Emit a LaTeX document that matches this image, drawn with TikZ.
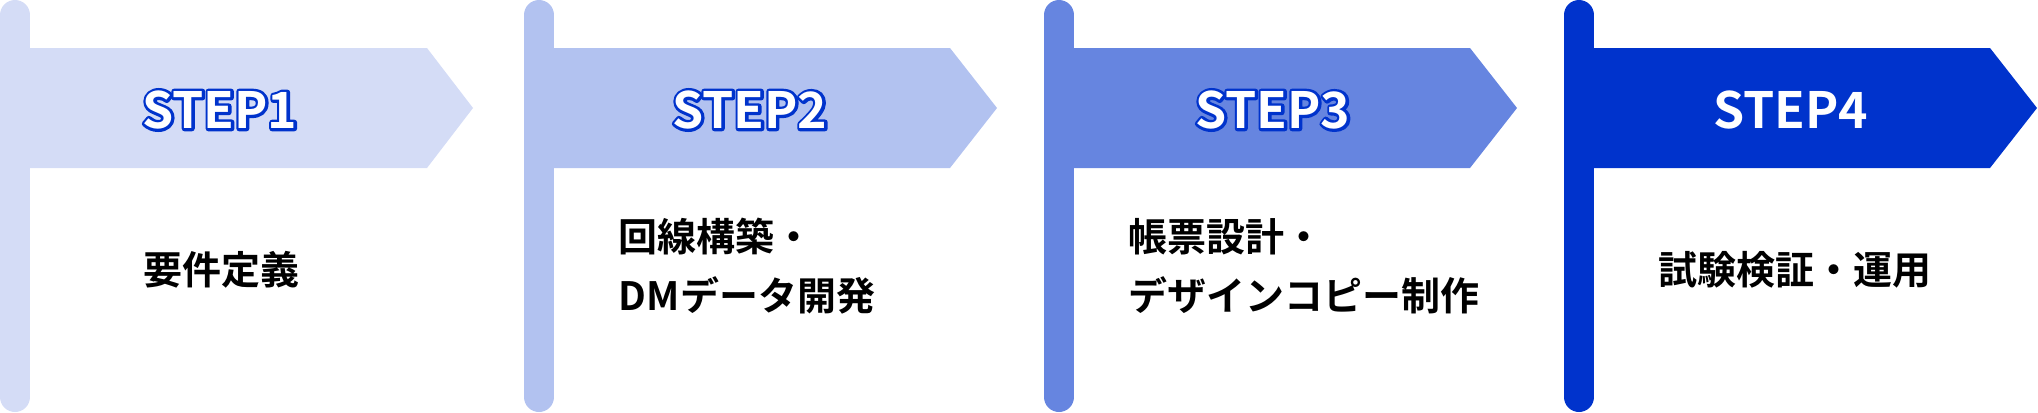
\documentclass[tikz,border=0pt]{standalone}
\usepackage{fontspec}
\usepackage{xcolor}
\usepackage{tikz}
\usetikzlibrary{positioning}
\newfontfamily\jpfont{Noto Sans CJK JP Bold}
\definecolor{stepblue}{HTML}{0033CC}
% blue outline behind white letters
\newcommand{\stepoutline}[1]{%
  \rlap{\special{pdf:literal direct 1 Tr 2.8 w 1 j 0 0.2 0.8 RG}#1%
  \special{pdf:literal direct 0 Tr 0.4 w}}#1}

\begin{document}
\begin{tikzpicture}[x=0.5pt, y=-0.5pt,
  pole/.style={line width=15pt, line cap=round},
  steplabel/.style={inner sep=0pt, text=white,
    font=\jpfont\fontsize{25}{30}\selectfont},
  stepbody/.style={inner sep=0pt, text=black, align=left,
    font=\jpfont\fontsize{19.5}{29.5}\selectfont}]

\useasboundingbox (0,0) rectangle (2038,412);

% Flags — pole plus pennant, four tints of the same blue
\draw[pole, stepblue!17!white] (15,15) -- (15,397);
\fill[stepblue!17!white] (15,48) -- (427,48) -- (473,108) -- (427,168) -- (15,168) -- cycle;

\draw[pole, stepblue!30!white] (539,15) -- (539,397);
\fill[stepblue!30!white] (539,48) -- (950,48) -- (997,108) -- (950,168) -- (539,168) -- cycle;

\draw[pole, stepblue!60!white] (1059,15) -- (1059,397);
\fill[stepblue!60!white] (1059,48) -- (1470,48) -- (1517,108) -- (1470,168) -- (1059,168) -- cycle;

\draw[pole, stepblue] (1579,15) -- (1579,397);
\fill[stepblue] (1579,48) -- (1990,48) -- (2037,108) -- (1990,168) -- (1579,168) -- cycle;

% Step labels on the pennants
\node[steplabel] (s1) at (220,110) {\stepoutline{STEP1}};
\node[steplabel] (s2) at (750,110) {\stepoutline{STEP2}};
\node[steplabel] (s3) at (1273,110) {\stepoutline{STEP3}};
\node[steplabel] (s4) at (1791,110) {STEP4};

% Task texts below each pennant
\node[stepbody] (t1) at (221,270) {要件定義};
\node[stepbody] (t2) at (747,266) {回線構築・\\DMデータ開発};
\node[stepbody] (t3) at (1304,266) {帳票設計・\\デザインコピー制作};
\node[stepbody] (t4) at (1795,270) {試験検証・運用};

\end{tikzpicture}
\end{document}
